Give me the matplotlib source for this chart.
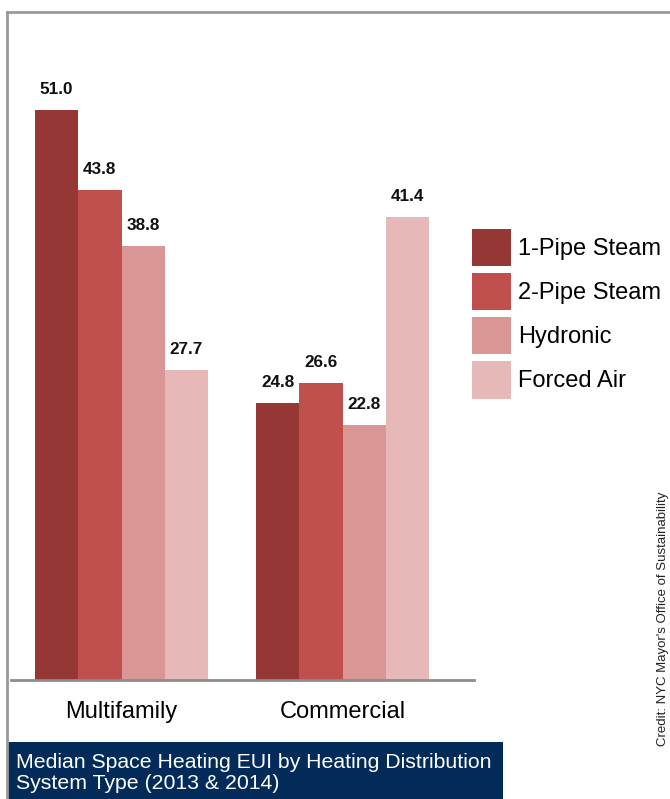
import matplotlib
matplotlib.use("Agg")
import matplotlib.pyplot as plt
from matplotlib.patches import Rectangle
from matplotlib.lines import Line2D
import numpy as np

plt.rcParams['font.family'] = ['Liberation Sans', 'DejaVu Sans']

categories = ["Multifamily", "Commercial"]
series_names = ["1-Pipe Steam", "2-Pipe Steam", "Hydronic", "Forced Air"]
one_pipe = [51.0, 24.8]
two_pipe = [43.8, 26.6]
hydronic = [38.8, 22.8]
forced_air = [27.7, 41.4]
colors = ["#953735", "#c0504d", "#d99694", "#e6b9b8"]
title_text = "Median Space Heating EUI by Heating Distribution\nSystem Type (2013 & 2014)"
credit_text = "Credit: NYC Mayor's Office of Sustainability"

W, H = 670, 799
fig = plt.figure(figsize=(W / 100, H / 100), dpi=100)

def fx(px):
    return px / W

def fy(py):
    return 1 - py / H

# axes: x from 11 to 474 px, y from 680 (baseline) to 12 px
ax = fig.add_axes([fx(11), fy(680), fx(474) - fx(11), fy(12) - fy(680)])
px_per_unit = (680 - 110) / 51.0
ax.set_ylim(0, (680 - 12) / px_per_unit)
group_px = 221.0
ax.set_xlim((11 - 121.5) / group_px, (474 - 121.5) / group_px)

bar_w = 43.3 / group_px
x = np.arange(len(categories))
all_series = [one_pipe, two_pipe, hydronic, forced_air]
for i, (vals, name, c) in enumerate(zip(all_series, series_names, colors)):
    pos = x + (i - 1.5) * bar_w
    bars = ax.bar(pos, vals, width=bar_w, color=c, label=name, edgecolor='none')
    for xp, v in zip(pos, vals):
        ax.annotate(f"{v:.1f}", (xp, v), xytext=(0, 13), textcoords='offset pixels',
                    ha='center', va='bottom', fontsize=12.3, fontweight='bold', color='#111111')

for s in ax.spines.values():
    s.set_visible(False)
ax.axhline(0, color='#8c8c8c', lw=2, clip_on=False)
ax.set_yticks([])
ax.set_xticks(x)
ax.set_xticklabels(categories, fontsize=17)
ax.tick_params(axis='x', length=0, pad=15)
ax.patch.set_alpha(0)

leg = ax.legend(loc='upper left', bbox_to_anchor=(fx(472), fy(229)), bbox_transform=fig.transFigure,
                frameon=False, fontsize=17, handlelength=1.65, handleheight=2.05,
                handletextpad=0.3, labelspacing=0.29, borderpad=0, borderaxespad=0)

# frame lines
fig.add_artist(Line2D([fx(7), fx(7)], [fy(12), 0], color='#999999', lw=2, transform=fig.transFigure))
fig.add_artist(Line2D([fx(7), 1], [fy(12), fy(12)], color='#999999', lw=2, transform=fig.transFigure))

# title box
fig.add_artist(Rectangle((fx(8), 0), fx(503) - fx(8), fy(742), transform=fig.transFigure,
                         facecolor='#032b5a', edgecolor='none'))
fig.text(fx(16), fy(773), title_text, color='white', fontsize=15.3, ha='left', va='center',
         linespacing=1.15)

fig.text(fx(663), fy(619), credit_text, rotation=90, fontsize=9.5, ha='center', va='center',
         color='#222222')

fig.savefig("out.png", dpi=100)
